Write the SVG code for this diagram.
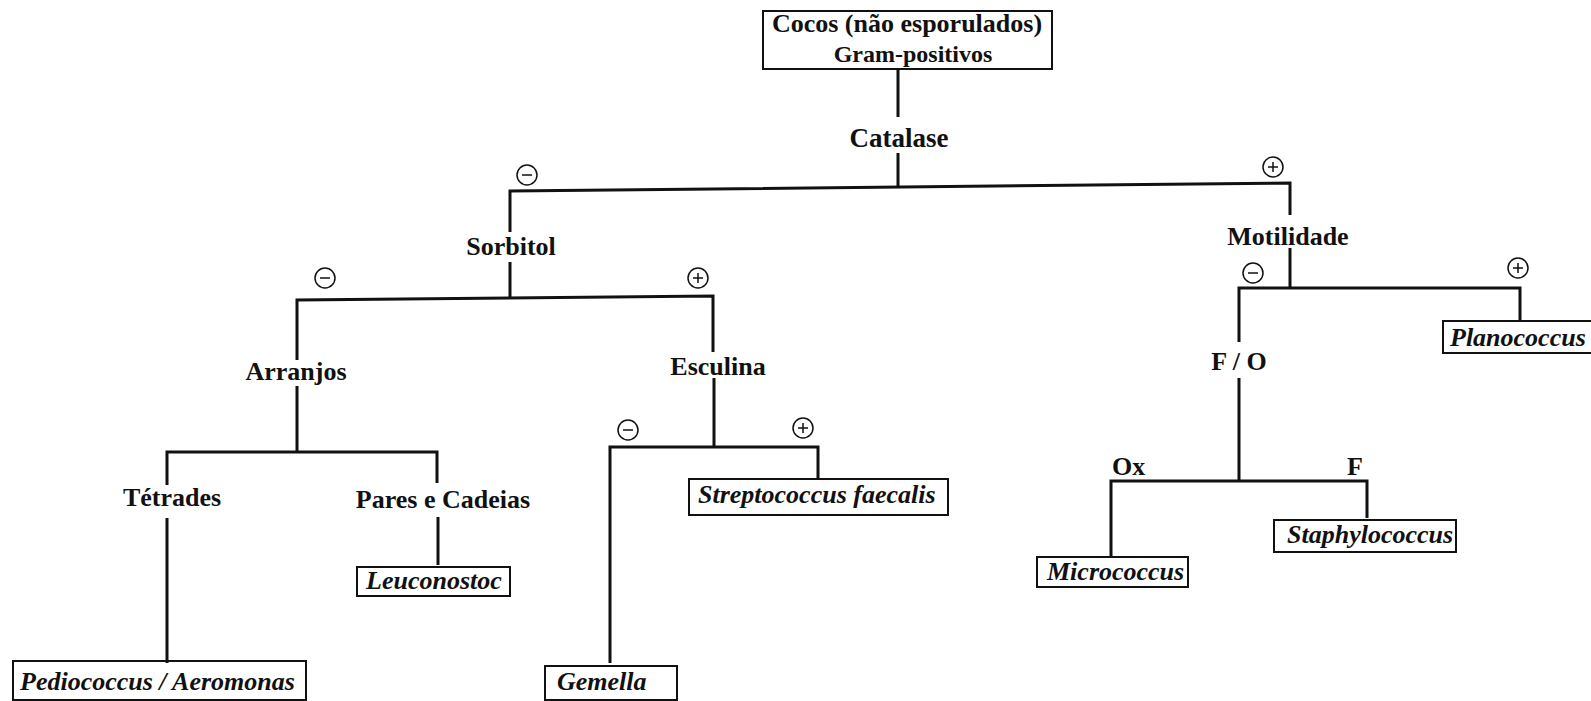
<svg xmlns="http://www.w3.org/2000/svg" width="1591" height="701" viewBox="0 0 1591 701">
<style>
.lbl{font-family:"Liberation Serif","Times New Roman",serif;font-weight:bold;font-size:26px;fill:#111;}
.gen{font-family:"Liberation Serif","Times New Roman",serif;font-weight:bold;font-style:italic;font-size:26px;fill:#111;}
.box{fill:none;stroke:#111;stroke-width:2;}
.conn{fill:none;stroke:#111;stroke-width:3;stroke-linejoin:miter;}
.sign{fill:none;stroke:#111;stroke-width:1.5;}
</style>
<defs>
<g id="minus"><circle r="10" class="sign"/><path d="M-5,0H5" class="sign"/></g>
<g id="plus"><circle r="10" class="sign"/><path d="M-5,0H5M0,-5V5" class="sign"/></g>
</defs>
<rect width="1591" height="701" fill="#fff"/>
<g id="connectors">
<path class="conn" d="M898,69V117M898,153V188"/>
<path class="conn" d="M510,232V191L1290,183V215"/>
<path class="conn" d="M510,262V298"/>
<path class="conn" d="M297,360V300L713,296V352M714,378V447"/>
<path class="conn" d="M297,386V452"/>
<path class="conn" d="M167,485V452H437V483"/>
<path class="conn" d="M167,518V663"/>
<path class="conn" d="M438,517V565"/>
<path class="conn" d="M610,663V447H818V478"/>
<path class="conn" d="M1290,248V288"/>
<path class="conn" d="M1239,342V288H1520V321"/>
<path class="conn" d="M1239,378V480"/>
<path class="conn" d="M1111,556V481H1367V518"/>
</g>
<g id="signs">
<use href="#minus" x="527" y="175"/>
<use href="#plus" x="1273" y="167"/>
<use href="#minus" x="325" y="278"/>
<use href="#plus" x="698" y="278"/>
<use href="#minus" x="628" y="430"/>
<use href="#plus" x="803" y="428"/>
<use href="#minus" x="1253" y="273"/>
<use href="#plus" x="1518" y="268"/>
</g>
<g id="root">
<rect class="box" x="763" y="11" width="289" height="58"/>
<text class="lbl" x="907" y="32" text-anchor="middle">Cocos (não esporulados)</text>
<text class="lbl" x="913" y="62" text-anchor="middle" style="font-size:24px">Gram-positivos</text>
</g>
<g id="catalase"><text class="lbl" x="899" y="147" text-anchor="middle" style="font-size:27px">Catalase</text></g>
<g id="sorbitol"><text class="lbl" x="511" y="255" text-anchor="middle">Sorbitol</text></g>
<g id="motilidade"><text class="lbl" x="1288" y="245" text-anchor="middle">Motilidade</text></g>
<g id="arranjos"><text class="lbl" x="296" y="380" text-anchor="middle">Arranjos</text></g>
<g id="esculina"><text class="lbl" x="718" y="375" text-anchor="middle">Esculina</text></g>
<g id="fo"><text class="lbl" x="1239" y="370" text-anchor="middle">F / O</text></g>
<g id="tetrades"><text class="lbl" x="172" y="506" text-anchor="middle">Tétrades</text></g>
<g id="pares"><text class="lbl" x="443" y="508" text-anchor="middle">Pares e Cadeias</text></g>
<g id="ox"><text class="lbl" x="1112" y="475">Ox</text></g>
<g id="f"><text class="lbl" x="1355" y="475" text-anchor="middle">F</text></g>
<g id="planococcus">
<rect class="box" x="1443" y="321" width="160" height="32"/>
<text class="gen" x="1450" y="346">Planococcus</text>
</g>
<g id="streptococcus">
<rect class="box" x="689" y="479" width="259" height="36"/>
<text class="gen" x="698" y="503">Streptococcus faecalis</text>
</g>
<g id="staphylococcus">
<rect class="box" x="1274" y="520" width="182" height="32"/>
<text class="gen" x="1287" y="543">Staphylococcus</text>
</g>
<g id="micrococcus">
<rect class="box" x="1037" y="557" width="151" height="30"/>
<text class="gen" x="1047" y="580">Micrococcus</text>
</g>
<g id="leuconostoc">
<rect class="box" x="357" y="567" width="153" height="29"/>
<text class="gen" x="366" y="589">Leuconostoc</text>
</g>
<g id="pediococcus">
<rect class="box" x="13" y="661" width="293" height="39"/>
<text class="gen" x="20" y="690">Pediococcus / Aeromonas</text>
</g>
<g id="gemella">
<rect class="box" x="545" y="666" width="132" height="34"/>
<text class="gen" x="557" y="690">Gemella</text>
</g>
</svg>
